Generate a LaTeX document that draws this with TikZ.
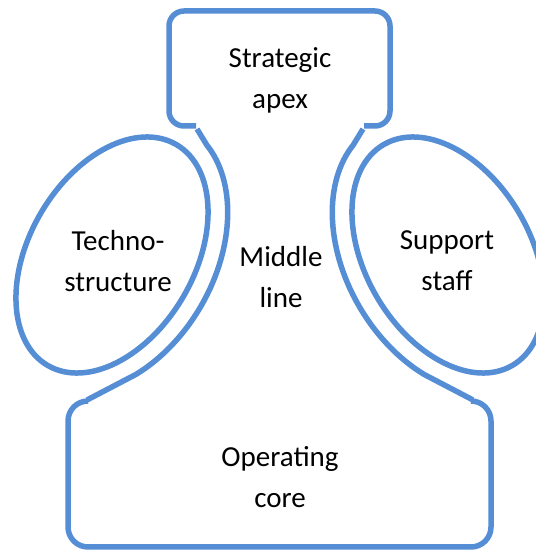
\documentclass[tikz,border=0pt]{standalone}
\usepackage{fontspec}
\setmainfont{Carlito}
\definecolor{lineblue}{RGB}{85,142,213}
\begin{document}
\begin{tikzpicture}[x=1pt,y=1pt,
  shapeline/.style={draw=lineblue, line width=5.5pt},
  lbl/.style={font=\fontsize{29}{41}\selectfont, align=center, text=black, inner sep=0pt}]
\useasboundingbox (0,0) rectangle (536,550);
% Strategic apex box
\draw[shapeline, rounded corners=15pt] (196,424) -- (169,424) -- (169,539) -- (390,539) -- (390,424) -- (364,424);
% Operating core box
\draw[shapeline, rounded corners=20pt] (87,149) -- (68,149) -- (68,3) -- (491,3) -- (491,149) -- (473,149);
% ellipses
\draw[shapeline, rotate around={59.8:(112,295)}] (112,295) ellipse [x radius=127.8pt, y radius=82.6pt];
\draw[shapeline, rotate around={-59.8:(448,295)}] (448,295) ellipse [x radius=127.8pt, y radius=82.6pt];
% middle line outlines
\draw[shapeline] (197,421) -- plot[domain=-15:-128, samples=50, variable=\t]
  ({112 + 74.35*cos(\t) - 88.68*sin(\t)}, {295 + 127.74*cos(\t) + 51.61*sin(\t)}) -- (87,150);
\draw[shapeline] (363,421) -- plot[domain=-15:-128, samples=50, variable=\t]
  ({448 - 74.35*cos(\t) + 88.68*sin(\t)}, {295 + 127.74*cos(\t) + 51.61*sin(\t)}) -- (473,150);
% labels
\node[lbl] (apex) at (280,470) {Strategic\\apex};
\node[lbl] (techno) at (118,289) {Techno-\\structure};
\node[lbl] (middle) at (281,273) {Middle\\line};
\node[lbl] (support) at (447,289) {Support\\staff};
\node[lbl] (core) at (280,73) {Operating\\core};
\end{tikzpicture}
\end{document}
